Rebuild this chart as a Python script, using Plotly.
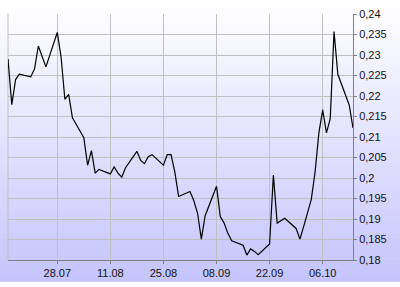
import plotly.graph_objects as go

dates = [
    "2008-07-15", "2008-07-16", "2008-07-17", "2008-07-18",
    "2008-07-21", "2008-07-22", "2008-07-23", "2008-07-24", "2008-07-25",
    "2008-07-28", "2008-07-29", "2008-07-30", "2008-07-31", "2008-08-01",
    "2008-08-04", "2008-08-05", "2008-08-06", "2008-08-07", "2008-08-08",
    "2008-08-11", "2008-08-12", "2008-08-13", "2008-08-14", "2008-08-15",
    "2008-08-18", "2008-08-19", "2008-08-20", "2008-08-21", "2008-08-22",
    "2008-08-25", "2008-08-26", "2008-08-27", "2008-08-28", "2008-08-29",
    "2008-09-01", "2008-09-02", "2008-09-03", "2008-09-04", "2008-09-05",
    "2008-09-08", "2008-09-09", "2008-09-10", "2008-09-11", "2008-09-12",
    "2008-09-15", "2008-09-16", "2008-09-17", "2008-09-18", "2008-09-19",
    "2008-09-22", "2008-09-23", "2008-09-24", "2008-09-25", "2008-09-26",
    "2008-09-29", "2008-09-30", "2008-10-01", "2008-10-02", "2008-10-03",
    "2008-10-04", "2008-10-05",
    "2008-10-06", "2008-10-07", "2008-10-08", "2008-10-09", "2008-10-10",
    "2008-10-13", "2008-10-14",
]
values = [
    0.2290, 0.2179, 0.2240, 0.2253,
    0.2247, 0.2266, 0.2322, 0.2294, 0.2271,
    0.2355, 0.2295, 0.2192, 0.2204, 0.2147,
    0.2098, 0.2031, 0.2067, 0.2012, 0.2021,
    0.2010, 0.2027, 0.2012, 0.2002, 0.2025,
    0.2065, 0.2043, 0.2035, 0.2052, 0.2057,
    0.2031, 0.2057, 0.2057, 0.2015, 0.1955,
    0.1967, 0.1945, 0.1914, 0.1851, 0.1908,
    0.1980, 0.1906, 0.1890, 0.1865, 0.1847,
    0.1836, 0.1812, 0.1827, 0.1821, 0.1813,
    0.1839, 0.2007, 0.1890, 0.1897, 0.1902,
    0.1877, 0.1851, 0.1882, 0.1915, 0.1948,
    0.2015, 0.2110,
    0.2166, 0.2110, 0.2145, 0.2357, 0.2253,
    0.2178, 0.2122,
]

x_tick_vals = ["2008-07-28", "2008-08-11", "2008-08-25", "2008-09-08", "2008-09-22", "2008-10-06"]
x_tick_text = ["28.07", "11.08", "25.08", "08.09", "22.09", "06.10"]
y_tick_vals = [0.18, 0.185, 0.19, 0.195, 0.2, 0.205, 0.21, 0.215, 0.22, 0.225, 0.23, 0.235, 0.24]
y_tick_text = ["0,18", "0,185", "0,19", "0,195", "0,2", "0,205", "0,21", "0,215",
               "0,22", "0,225", "0,23", "0,235", "0,24"]

W, H = 400, 287
ML, MR, MT, MB = 8, 47, 10, 22
PW, PH = W - ML - MR, H - MT - MB

fig = go.Figure()
fig.add_trace(go.Scatter(x=dates, y=values, mode="lines",
                         line=dict(color="#000000", width=1.2),
                         hoverinfo="skip", showlegend=False))

# page background gradient (white at top -> lavender at bottom) as thin strips
shapes = []
N = 96
top = (255, 255, 255)
bot = (196, 196, 252)
for i in range(N):
    top_px = i * H / N
    bot_px = (i + 1) * H / N + 0.6
    t = (i + 0.5) / N
    c = tuple(int(round(top[k] + (bot[k] - top[k]) * t)) for k in range(3))
    shapes.append(dict(
        type="rect", xref="paper", yref="paper", layer="below",
        x0=-ML / PW - 0.01, x1=1 + MR / PW + 0.01,
        y0=(H - MB - bot_px) / PH, y1=(H - MB - top_px) / PH,
        fillcolor="rgb(%d,%d,%d)" % c, line=dict(width=0),
    ))

# left border (light gray)
shapes.append(dict(type="line", xref="paper", yref="paper", x0=0, x1=0, y0=0, y1=1,
                   line=dict(color="#c0c0c0", width=1), layer="below"))

fig.update_layout(
    shapes=shapes,
    width=W, height=H,
    margin=dict(l=ML, r=MR, t=MT, b=MB, pad=0),
    paper_bgcolor="rgba(0,0,0,0)",
    plot_bgcolor="rgba(0,0,0,0)",
    separators=", ",
    font=dict(family="Liberation Sans, Arial, sans-serif", size=11, color="#111111"),
    xaxis=dict(
        type="date",
        range=["2008-07-15", "2008-10-14"],
        tickmode="array", tickvals=x_tick_vals, ticktext=x_tick_text,
        showgrid=True, gridcolor="#c0c0c0", gridwidth=1,
        showline=True, linecolor="#808080", linewidth=1,
        ticks="outside", ticklen=3, tickcolor="#808080",
        zeroline=False, fixedrange=True,
    ),
    yaxis=dict(
        side="right",
        range=[0.18, 0.24],
        tickmode="array", tickvals=y_tick_vals, ticktext=y_tick_text,
        showgrid=True, gridcolor="#c0c0c0", gridwidth=1,
        showline=True, linecolor="#808080", linewidth=1,
        ticks="outside", ticklen=3, tickcolor="#808080",
        zeroline=False, fixedrange=True,
    ),
)

fig.write_html("out.html", config={"displayModeBar": False})
